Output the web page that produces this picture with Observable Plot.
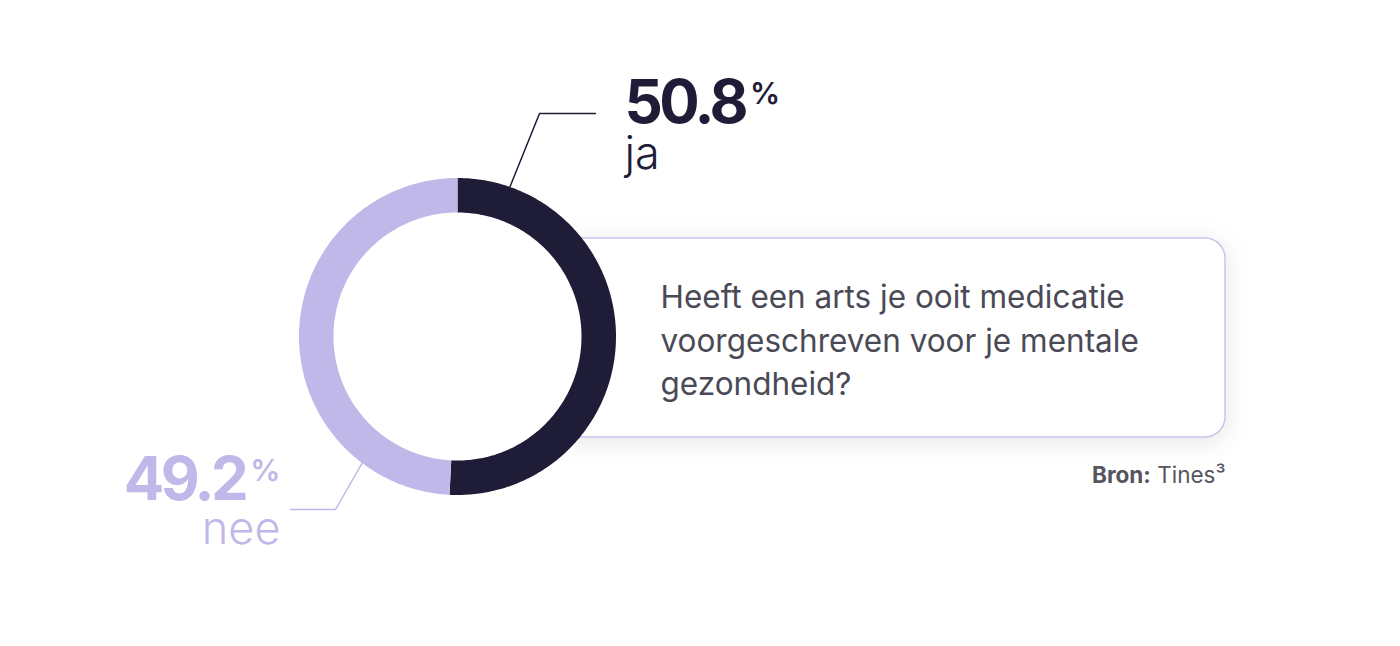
<!DOCTYPE html>
<html><head><meta charset="utf-8">
<script src="https://cdn.jsdelivr.net/npm/d3@7"></script>
<script src="https://cdn.jsdelivr.net/npm/@observablehq/plot@0.6"></script>
<style>body{margin:0;background:#fff;overflow:hidden;} svg{display:block;}</style>
</head><body><div id="chart"></div>
<script>
// ---- data ----
const categories = ["ja", "nee"];
const values = [50.8, 49.2];
const valueLabels = ["50.8%", "49.2%"];
const question = ["Heeft een arts je ooit medicatie", "voorgeschreven voor je mentale", "gezondheid?"];
const sourceText = ["Bron: Tines³"];

// ---- layout ----
const W = 1400, H = 646;
const cx = 457, cy = 336, rOuter = 158.5, rInner = 124;
const colors = ["#1e1c36", "#c1b8ea"];
const font = "Inter, 'Noto Sans', sans-serif";

const total = d3.sum(values);
let acc = 0;
const ring = [];
values.forEach((v, i) => {
  const a0 = acc / total * 2 * Math.PI, a1 = (acc + v) / total * 2 * Math.PI; acc += v;
  const n = 240;
  for (let k = 0; k <= n; k++) { const a = a0 + (a1 - a0) * k / n; ring.push({cat: categories[i], x: cx + rOuter * Math.sin(a), y: cy - rOuter * Math.cos(a)}); }
  for (let k = n; k >= 0; k--) { const a = a0 + (a1 - a0) * k / n; ring.push({cat: categories[i], x: cx + rInner * Math.sin(a), y: cy - rInner * Math.cos(a)}); }
});

// leader lines: start angle on ring, elbow, end
const leaderDefs = [
  {cat: "ja", angle: 19.3, elbow: [539, 113], end: [595, 113]},
  {cat: "nee", angle: 217, elbow: [335, 509], end: [290, 509]}
];
const leaders = leaderDefs.flatMap(d => {
  const a = d.angle * Math.PI / 180;
  return [
    {cat: d.cat, x: cx + rOuter * Math.sin(a), y: cy - rOuter * Math.cos(a)},
    {cat: d.cat, x: d.elbow[0], y: d.elbow[1]},
    {cat: d.cat, x: d.end[0], y: d.end[1]}
  ];
});

const labelPos = [
  {x: 624, y: 122, nameY: 168},
  {x: 280, y: 499, nameY: 543}
];
const labels = categories.map((c, i) => ({cat: c, value: valueLabels[i], ...labelPos[i]}));

const plot = Plot.plot({
  width: W, height: H,
  margin: 0,
  x: {domain: [0, W], range: [0, W], axis: null},
  y: {domain: [0, H], range: [0, H], axis: null},
  color: {domain: categories, range: colors},
  style: {fontFamily: font, background: "white"},
  marks: [
    Plot.rect([0], {x1: 560, x2: 1225, y1: 238, y2: 437, rx: 20, fill: "white", stroke: "#cbc3ef", strokeWidth: 1.5}),
    Plot.text([question.join("\n")], {x: 660, y: 277, text: d => d, textAnchor: "start", lineAnchor: "top", lineHeight: 1.38, fontSize: 31.5, fill: "#4a4a56", fontWeight: 400}),
    Plot.text(sourceText, {x: 1225, y: 482, text: d => d, textAnchor: "end", lineAnchor: "bottom", fontSize: 22.5, fill: "#555560"}),
    Plot.dot([0], {x: cx, y: cy, r: rInner, fill: "white", stroke: "none"}),
    ...categories.map((c, i) => Plot.line(ring.filter(d => d.cat === c), {x: "x", y: "y", fill: colors[i], stroke: "none"})),
    Plot.line(leaders, {x: "x", y: "y", z: "cat", stroke: "cat", strokeWidth: 1.5}),
    Plot.text(labels.slice(0, 1), {x: "x", y: "y", text: "value", textAnchor: "start", lineAnchor: "bottom", fontSize: 60, fontWeight: 700, fill: "cat"}),
    Plot.text(labels.slice(1), {x: "x", y: "y", text: "value", textAnchor: "end", lineAnchor: "bottom", fontSize: 60, fontWeight: 700, fill: "cat"}),
    Plot.text(labels.slice(0, 1), {x: "x", y: "nameY", text: "cat", textAnchor: "start", lineAnchor: "bottom", fontSize: 45, fontWeight: 300, fill: "cat"}),
    Plot.text(labels.slice(1), {x: "x", y: "nameY", text: "cat", textAnchor: "end", lineAnchor: "bottom", fontSize: 45, fontWeight: 300, fill: "cat"})
  ]
});
document.getElementById("chart").appendChild(plot);
const svg = d3.select(plot);
// shadow on the question box
svg.selectAll('g[aria-label="rect"] rect').style("filter", "drop-shadow(0px 4px 12px rgba(0,0,0,0.10))");
// percent superscripts and bold source prefix
svg.selectAll("text").each(function () {
  const t = this.textContent;
  const m = t.match(/^([\d.]+)%$/);
  if (m) {
    const s = d3.select(this); this.textContent = "";
    s.append("tspan").style("letter-spacing", "-3.5px").text(m[1]);
    s.append("tspan").attr("font-size", 30).attr("font-weight", 600).attr("dx", 5).attr("dy", -19).text("%");
  } else if (t.startsWith("Bron:")) {
    const s = d3.select(this); this.textContent = "";
    s.append("tspan").attr("font-weight", 700).text("Bron:");
    s.append("tspan").text(t.slice(5));
  }
});
</script>
</body></html>
